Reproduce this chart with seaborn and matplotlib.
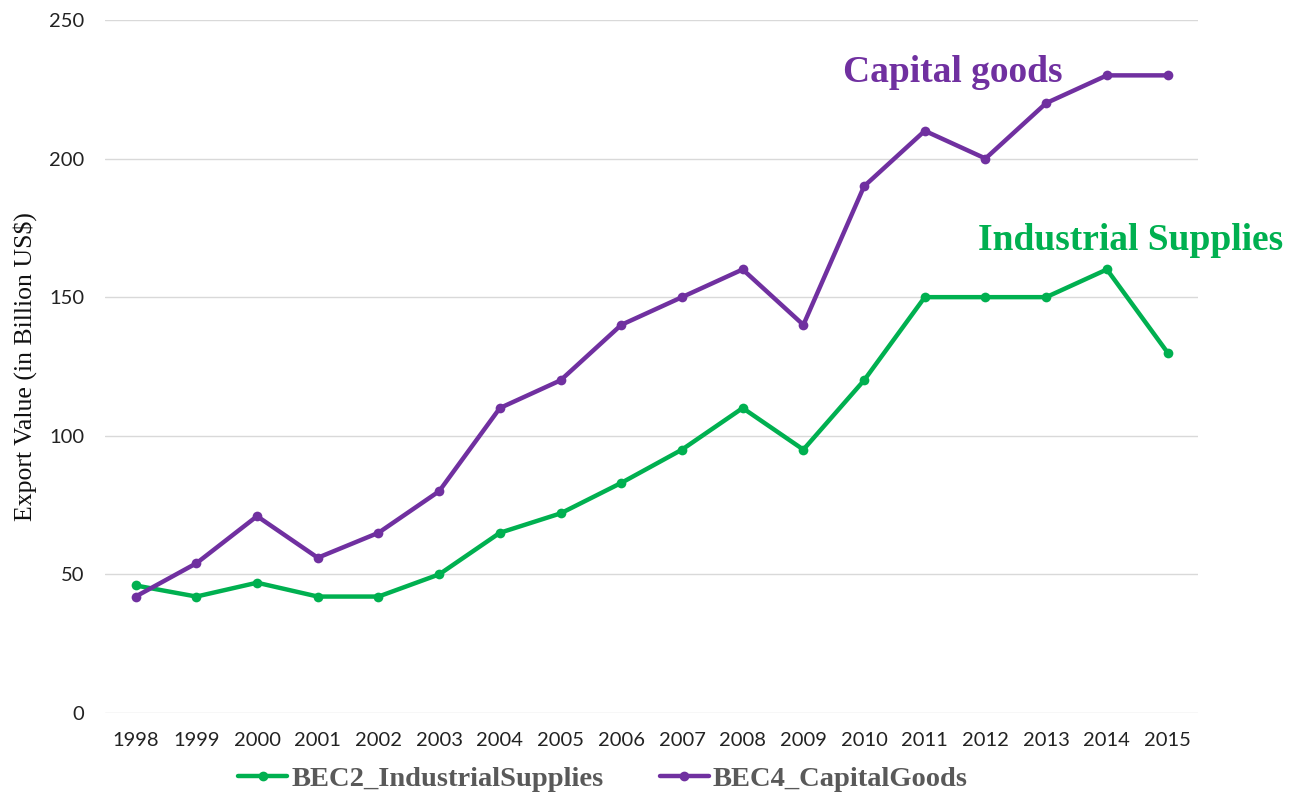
import numpy as np
import pandas as pd
import seaborn as sns
import matplotlib
matplotlib.use("Agg")
import matplotlib.pyplot as plt

years = [1998, 1999, 2000, 2001, 2002, 2003, 2004, 2005, 2006,
         2007, 2008, 2009, 2010, 2011, 2012, 2013, 2014, 2015]
industrial_supplies = [46, 42, 47, 42, 42, 50, 65, 72, 83,
                       95, 110, 95, 120, 150, 150, 150, 160, 130]
capital_goods = [42, 54, 71, 56, 65, 80, 110, 120, 140,
                 150, 160, 140, 190, 210, 200, 220, 230, 230]
series_names = ["BEC2_IndustrialSupplies", "BEC4_CapitalGoods"]
y_ticks = [0, 50, 100, 150, 200, 250]

GREEN = "#00B050"
PURPLE = "#7030A0"

sns.set_theme(style="white")
plt.rcParams["font.family"] = ["Lato", "DejaVu Sans"]

df = pd.DataFrame({
    "pos": list(range(len(years))) * 2,
    "value": industrial_supplies + capital_goods,
    "series": [series_names[0]] * len(years) + [series_names[1]] * len(years),
})

fig = plt.figure(figsize=(13, 7.97), dpi=100)
ax = fig.add_axes([0.081, 0.1054, 0.8405, 0.8696])

sns.lineplot(data=df, x="pos", y="value", hue="series",
             palette={series_names[0]: GREEN, series_names[1]: PURPLE},
             marker="o", markersize=7, markeredgewidth=0, linewidth=3.2,
             ax=ax, legend=False)

ax.set_xlim(-0.5, len(years) - 0.5)
ax.set_ylim(0, 250)
ax.set_xticks(range(len(years)))
ax.set_xticklabels([str(y) for y in years], fontsize=14.5, color="#222222")
ax.set_yticks(y_ticks)
ax.set_yticklabels([str(t) for t in y_ticks], fontsize=14.5, color="#222222")
ax.tick_params(axis="x", length=0, pad=13.5)
ax.tick_params(axis="y", length=0, pad=15)
ax.grid(axis="y", color="#D9D9D9", linewidth=1)
ax.set_axisbelow(True)
for s in ax.spines.values():
    s.set_visible(False)

ax.set_xlabel("")
ax.set_ylabel("")
fig.text(25 / 1300, 1 - 367 / 797, "Export Value (in Billion US$)", fontsize=18.5,
         family="Liberation Serif", color="#111111", rotation=90,
         ha="center", va="center")

ax.text(11.66, 231, "Capital goods", color=PURPLE, fontsize=27,
        fontweight="bold", family="Liberation Serif", va="center", ha="left")
ax.text(13.87, 170.5, "Industrial Supplies", color=GREEN, fontsize=27,
        fontweight="bold", family="Liberation Serif", va="center", ha="left")

handles = [plt.Line2D([], [], color=GREEN, marker="o", markersize=6, linewidth=3.2),
           plt.Line2D([], [], color=PURPLE, marker="o", markersize=6, linewidth=3.2)]
leg = fig.legend(handles, series_names, loc="center", bbox_to_anchor=(0.464, 0.022),
                 ncol=2, frameon=False, handlelength=1.7, handletextpad=0.15,
                 columnspacing=2.0,
                 prop={"family": "Liberation Serif", "weight": "bold", "size": 20.5})
for t in leg.get_texts():
    t.set_color("#595959")

fig.savefig("out.png", dpi=100)
